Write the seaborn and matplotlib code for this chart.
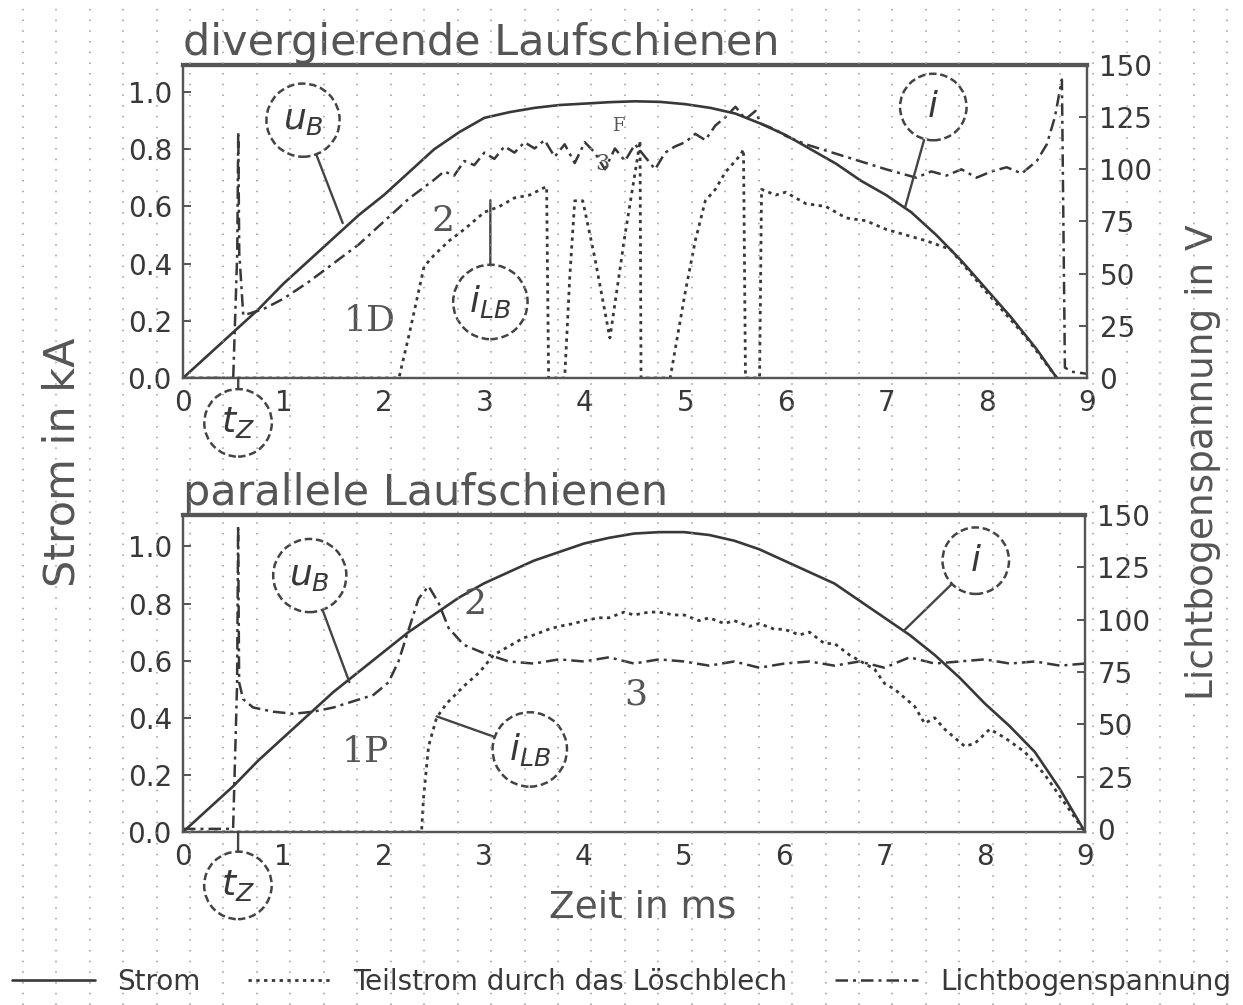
import numpy as np
import pandas as pd
import matplotlib
matplotlib.use("Agg")
import matplotlib.pyplot as plt
from matplotlib.lines import Line2D
import seaborn as sns

# ---------------- data: divergierende Laufschienen (top) ----------------
div_i_t = [0, 0.25, 0.5, 0.75, 1.0, 1.25, 1.5, 1.75, 2.0, 2.25, 2.5, 2.75, 3.0, 3.25, 3.5,
           3.75, 4.0, 4.25, 4.5, 4.75, 5.0, 5.25, 5.5, 5.75, 6.0, 6.25, 6.5, 6.75, 7.0,
           7.25, 7.5, 7.75, 8.0, 8.25, 8.5, 8.7]
div_i = [0, 0.08, 0.16, 0.24, 0.33, 0.41, 0.49, 0.57, 0.64, 0.72, 0.80, 0.86, 0.91, 0.93,
         0.945, 0.955, 0.96, 0.965, 0.968, 0.966, 0.958, 0.945, 0.925, 0.89, 0.85, 0.80,
         0.75, 0.69, 0.64, 0.58, 0.50, 0.41, 0.31, 0.21, 0.10, 0.0]

div_lb_t = [0, 2.15, 2.25, 2.4, 2.5, 2.65, 2.8, 3.0, 3.15, 3.3, 3.45, 3.62, 3.64, 3.8,
            3.85, 3.9, 3.98, 4.1, 4.25, 4.4, 4.52, 4.55, 4.56, 4.85, 5.0, 5.1, 5.2, 5.3,
            5.4, 5.55, 5.58, 5.6, 5.74, 5.76, 5.9, 6.0, 6.2, 6.4, 6.6, 6.8, 7.0, 7.2, 7.4,
            7.64, 8.0, 8.4, 8.7]
div_lb = [0, 0, 0.15, 0.39, 0.43, 0.48, 0.52, 0.58, 0.60, 0.63, 0.64, 0.67, 0.0, 0.0,
          0.35, 0.62, 0.62, 0.42, 0.14, 0.5, 0.76, 0.83, 0.0, 0.0, 0.3, 0.48, 0.62, 0.66,
          0.72, 0.78, 0.80, 0.0, 0.0, 0.66, 0.64, 0.65, 0.61, 0.60, 0.56, 0.55, 0.52,
          0.50, 0.48, 0.45, 0.30, 0.14, 0.0]

div_u_t = [0, 0.5, 0.54, 0.55, 0.56, 0.6, 0.8, 1.0, 1.25, 1.5, 1.75, 2.0, 2.25, 2.5, 2.6,
           2.7, 2.8, 2.9, 3.0, 3.1, 3.2, 3.3, 3.4, 3.5, 3.6, 3.7, 3.8, 3.9, 4.0, 4.1, 4.2,
           4.3, 4.4, 4.5, 4.6, 4.7, 4.8, 4.9, 5.0, 5.1, 5.2, 5.3, 5.4, 5.5, 5.6, 5.7, 5.75,
           5.9, 6.0, 6.2, 6.4, 6.6, 6.8, 7.0, 7.15, 7.3, 7.45, 7.6, 7.75, 7.9, 8.05, 8.2,
           8.35, 8.5, 8.6, 8.68, 8.75, 8.78, 8.85, 9.0]
div_u = [0, 0, 60, 118, 60, 30, 33, 38, 46, 55, 64, 75, 86, 95, 99, 97, 104, 102, 108,
         105, 111, 108, 113, 110, 114, 106, 112, 103, 113, 108, 100, 110, 104, 112, 106,
         100, 108, 111, 113, 117, 114, 121, 125, 130, 124, 128, 122, 119, 116, 112, 109,
         106, 103, 100, 98, 96, 99, 97, 100, 96, 99, 101, 98, 104, 112, 125, 143, 5, 3,
         2]

# ---------------- data: parallele Laufschienen (bottom) ----------------
par_i_t = [0, 0.25, 0.5, 0.75, 1.0, 1.25, 1.5, 1.75, 2.0, 2.25, 2.5, 2.75, 3.0, 3.25, 3.5,
           3.75, 4.0, 4.25, 4.5, 4.75, 5.0, 5.25, 5.5, 5.75, 6.0, 6.25, 6.5, 6.75, 7.0,
           7.25, 7.5, 7.75, 8.0, 8.25, 8.5, 8.75, 9.0]
par_i = [0, 0.08, 0.16, 0.25, 0.33, 0.41, 0.49, 0.56, 0.63, 0.70, 0.76, 0.82, 0.87, 0.91,
         0.95, 0.98, 1.01, 1.03, 1.045, 1.05, 1.05, 1.04, 1.02, 0.99, 0.95, 0.91, 0.87,
         0.81, 0.75, 0.69, 0.62, 0.54, 0.45, 0.37, 0.28, 0.15, 0.0]

par_lb_t = [0, 2.38, 2.40, 2.45, 2.53, 2.63, 2.8, 2.96, 3.1, 3.2, 3.3, 3.4, 3.5, 3.65,
            3.75, 3.9, 4.0, 4.15, 4.25, 4.4, 4.5, 4.65, 4.75, 4.9, 5.0, 5.15, 5.25, 5.4,
            5.5, 5.65, 5.75, 5.9, 6.0, 6.15, 6.25, 6.4, 6.5, 6.65, 6.75, 6.9, 7.0, 7.1,
            7.2, 7.3, 7.4, 7.5, 7.6, 7.7, 7.8, 7.9, 8.05, 8.2, 8.4, 8.6, 8.8, 9.0]
par_lb = [0, 0, 0.12, 0.30, 0.40, 0.45, 0.51, 0.56, 0.62, 0.64, 0.66, 0.68, 0.69, 0.71,
          0.72, 0.73, 0.74, 0.75, 0.75, 0.77, 0.76, 0.77, 0.77, 0.76, 0.76, 0.74, 0.75,
          0.73, 0.74, 0.72, 0.73, 0.71, 0.71, 0.69, 0.70, 0.66, 0.66, 0.62, 0.60, 0.57,
          0.52, 0.50, 0.47, 0.44, 0.38, 0.40, 0.36, 0.33, 0.30, 0.31, 0.36, 0.33, 0.28,
          0.20, 0.10, 0.0]

par_u_t = [0, 0.5, 0.54, 0.55, 0.56, 0.6, 0.7, 0.9, 1.1, 1.3, 1.5, 1.7, 1.9, 2.05, 2.15,
           2.25, 2.35, 2.45, 2.55, 2.65, 2.8, 3.0, 3.25, 3.5, 3.75, 4.0, 4.25, 4.5, 4.75,
           5.0, 5.25, 5.5, 5.75, 6.0, 6.25, 6.5, 6.75, 7.0, 7.25, 7.5, 7.75, 8.0, 8.25,
           8.5, 8.75, 9.0]
par_u = [0, 0, 70, 145, 70, 62, 58, 56, 55, 56, 58, 61, 64, 70, 80, 95, 110, 116, 108, 96,
         88, 84, 80, 79, 81, 80, 82, 79, 81, 80, 78, 80, 77, 79, 80, 78, 80, 77, 82, 79,
         80, 81, 79, 80, 78, 79]

x_ticks = [0, 1, 2, 3, 4, 5, 6, 7, 8, 9]
left_ticks = [0.0, 0.2, 0.4, 0.6, 0.8, 1.0]
right_ticks = [0, 25, 50, 75, 100, 125, 150]
panel_titles = ["divergierende Laufschienen", "parallele Laufschienen"]
legend_labels = ["Strom", "Teilstrom durch das Löschblech", "Lichtbogenspannung"]
x_label = "Zeit in ms"
y_label_left = "Strom in kA"
y_label_right = "Lichtbogenspannung in V"

# ---------------- styling ----------------
sns.set_theme(style="white")
plt.rcParams["font.family"] = ["DejaVu Sans"]
INK = "#383838"
LS_I = "-"
LS_LB = (0, (1.2, 1.6))
LS_U = (0, (5, 2, 1.2, 2))

W, H = 1243, 1005
fig = plt.figure(figsize=(W / 100, H / 100), dpi=100)
fig.patch.set_facecolor("white")


def px_box(l, t, r, b):
    return [l / W, 1 - b / H, (r - l) / W, (b - t) / H]


panels = [
    dict(box=px_box(183, 65, 1087, 378), ylim=(0, 1.095), vlim=(0, 150),
         i=(div_i_t, div_i), lb=(div_lb_t, div_lb), u=(div_u_t, div_u),
         title=panel_titles[0],
         ann=[("$u_B$", (1.59, 0.542), (1.195, 0.902)),
              ("$i$", (7.19, 0.598), (7.47, 0.948)),
              ("$i_{LB}$", (3.06, 0.622), (3.06, 0.266)),
              ("$t_Z$", (0.55, 0.0), (0.548, -0.157))],
         marks=[("1D", 1.60, 0.20, 26), ("2", 2.47, 0.55, 26), ("3", 4.10, 0.75, 16),
                ("F", 4.27, 0.88, 13)]),
    dict(box=px_box(183, 515, 1085, 832), ylim=(0, 1.11), vlim=(-1.5, 150),
         i=(par_i_t, par_i), lb=(par_lb_t, par_lb), u=(par_u_t, par_u),
         title=panel_titles[1],
         ann=[("$u_B$", (1.66, 0.525), (1.265, 0.898)),
              ("$i$", (7.19, 0.704), (7.91, 0.95)),
              ("$i_{LB}$", (2.53, 0.405), (3.46, 0.289)),
              ("$t_Z$", (0.55, 0.0), (0.548, -0.187))],
         marks=[("1P", 1.58, 0.28, 26), ("2", 2.80, 0.80, 26), ("3", 4.40, 0.48, 26)]),
]

for p in panels:
    ax = fig.add_axes(p["box"])
    ax2 = ax.twinx()
    ti, vi = p["i"]
    tl, vl = p["lb"]
    tu, vu = p["u"]
    sns.lineplot(x=ti, y=vi, ax=ax, estimator=None, sort=False, color=INK,
                 linestyle=LS_I, linewidth=1.9, legend=False)
    sns.lineplot(x=tl, y=vl, ax=ax, estimator=None, sort=False, color=INK,
                 linestyle=LS_LB, linewidth=2.0, legend=False)
    sns.lineplot(x=tu, y=vu, ax=ax2, estimator=None, sort=False, color=INK,
                 linestyle=LS_U, linewidth=1.8, legend=False)

    ax.set_xlim(0, 9)
    ax.set_ylim(*p["ylim"])
    ax2.set_ylim(*p["vlim"])
    ax.set_xticks(x_ticks)
    ax.set_xticklabels([str(v) for v in x_ticks])
    ax.set_yticks(left_ticks)
    ax.set_yticklabels([f"{v:.1f}" for v in left_ticks])
    ax2.set_yticks(right_ticks)
    ax2.set_yticklabels([str(v) for v in right_ticks])
    ax.set_xlabel("")
    ax.set_ylabel("")
    ax2.set_ylabel("")
    ax.tick_params(axis="both", labelsize=20, colors=INK, direction="in", length=6,
                   width=1.2, pad=8)
    ax2.tick_params(axis="y", labelsize=20, colors=INK, direction="in", length=6,
                    width=1.2, pad=9)
    for a in (ax, ax2):
        for s in a.spines.values():
            s.set_color("#555555")
            s.set_linewidth(1.6)
    ax.spines["top"].set_linewidth(3)
    ax2.spines["top"].set_linewidth(3)

    ax.text(0.0, 1.004, p["title"], transform=ax.transAxes, ha="left", va="bottom",
            fontsize=31, color="#555555")

    for txt, xy, xyt in p["ann"]:
        ax2.annotate(txt, xy=xy, xycoords=ax.transData, xytext=xyt,
                     textcoords=ax.transData, ha="center", va="center", fontsize=26,
                     color=INK, annotation_clip=False,
                     bbox=dict(boxstyle="circle,pad=0.45", fc="white", ec="#444444",
                               ls=(0, (3, 1.5)), lw=1.8),
                     arrowprops=dict(arrowstyle="-", color="#444444", lw=1.7,
                                     shrinkA=0, shrinkB=0))
    for txt, x, y, fs in p["marks"]:
        ax2.text(x, y, txt, transform=ax.transData, ha="left", va="center",
                 fontsize=fs, family="DejaVu Serif", color="#555555")

fig.text(0.05, 0.54, y_label_left, rotation=90, ha="center", va="center",
         fontsize=31, color="#555555")
fig.text(0.968, 0.54, y_label_right, rotation=90, ha="center", va="center",
         fontsize=27, color="#555555")
fig.text(0.517, 0.097, x_label, ha="center", va="center", fontsize=27, color="#555555")

handles = [Line2D([], [], color=INK, linestyle=LS_I, linewidth=1.9),
           Line2D([], [], color=INK, linestyle=LS_LB, linewidth=2.0),
           Line2D([], [], color=INK, linestyle=LS_U, linewidth=1.8)]
fig.legend(handles, legend_labels, loc="center", bbox_to_anchor=(0.5, 0.023), ncol=3,
           frameon=False, fontsize=20, handlelength=3.0, columnspacing=1.7,
           handletextpad=0.8, labelcolor=INK)

# dotted scan-grid running across the whole sheet
for k in range(-5, 32):
    xf = (190 + 33.45 * k) / W
    fig.add_artist(Line2D([xf, xf], [0, 1], transform=fig.transFigure,
                          color="#9a9a9a", linestyle=(0, (1, 6)), linewidth=1.1,
                          zorder=5))

fig.savefig("out.png", dpi=100, facecolor="white")
